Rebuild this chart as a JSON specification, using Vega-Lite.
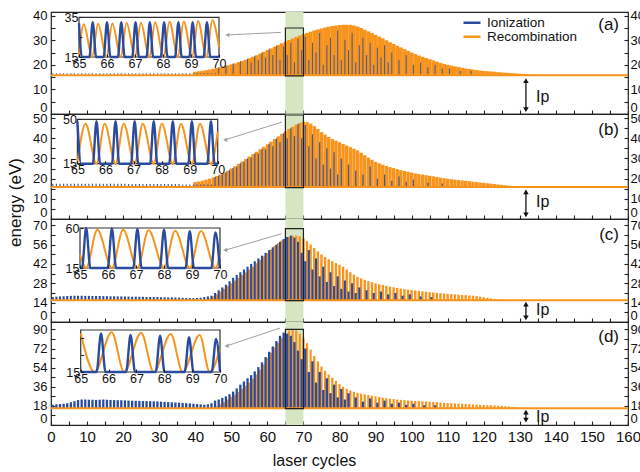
{
"$schema":"https://vega.github.io/schema/vega-lite/v6.json",
"padding":{"left":5,"top":9,"right":0,"bottom":2},
"background":"white",
"config":{"font":"Liberation Sans","view":{"stroke":"#222","strokeWidth":1.2},
"axis":{"labelColor":"#111","tickColor":"#222","titleColor":"#111","labelFont":"Liberation Sans","titleFont":"Liberation Sans","titleFontWeight":"normal","grid":false,"domain":false,"zindex":1,"tickWidth":1.1,"labelOverlap":false,"format":"d"},
"legend":{"labelFont":"Liberation Sans","labelColor":"#111"},
"text":{"font":"Liberation Sans","color":"#111"}},
"datasets":{
"m":[
{"t":0,"ai":16.6,"bi":17.5,"ci":18.0,"di":19},
{"t":1,"ai":16.6,"bi":17.5,"ci":18.3,"di":19.5},
{"t":2,"ai":16.6,"bi":17.5,"ci":18.5,"di":19.8},
{"t":3,"ai":16.6,"bi":17.5,"ci":18.6,"di":20},
{"t":4,"ai":16.6,"bi":17.5,"ci":18.8,"di":20.5},
{"t":5,"ai":16.6,"bi":17.5,"ci":18.9,"di":21.5},
{"t":6,"ai":16.6,"bi":17.5,"ci":19.0,"di":22.5},
{"t":7,"ai":16.6,"bi":17.5,"ci":19.0,"di":23.5},
{"t":8,"ai":16.6,"bi":17.5,"ci":19.0,"di":24},
{"t":9,"ai":16.6,"bi":17.5,"ci":18.9,"di":24},
{"t":10,"ai":16.6,"bi":17.5,"ci":18.9,"di":23.8},
{"t":11,"ai":16.6,"bi":17.5,"ci":18.8,"di":23.8},
{"t":12,"ai":16.6,"bi":17.5,"ci":18.8,"di":23.6},
{"t":13,"ai":16.6,"bi":17.5,"ci":18.8,"di":23.8},
{"t":14,"ai":16.6,"bi":17.5,"ci":18.7,"di":24},
{"t":15,"ai":16.6,"bi":17.5,"ci":18.7,"di":23.8},
{"t":16,"ai":16.6,"bi":17.5,"ci":18.6,"di":23.6},
{"t":17,"ai":16.6,"bi":17.5,"ci":18.6,"di":23.5},
{"t":18,"ai":16.6,"bi":17.5,"ci":18.5,"di":23.4},
{"t":19,"ai":16.6,"bi":17.5,"ci":18.5,"di":23.3},
{"t":20,"ai":16.6,"bi":17.5,"ci":18.4,"di":23.2},
{"t":21,"ai":16.6,"bi":17.3,"ci":18.4,"di":23},
{"t":22,"ai":16.6,"bi":17.3,"ci":18.3,"di":22.9},
{"t":23,"ai":16.6,"bi":17.3,"ci":18.3,"di":22.8},
{"t":24,"ai":16.6,"bi":17.3,"ci":18.2,"di":22.7},
{"t":25,"ai":16.6,"bi":17.3,"ci":18.2,"di":22.6},
{"t":26,"ai":16.6,"bi":17.3,"ci":18.1,"di":22.5},
{"t":27,"ai":16.6,"bi":17.3,"ci":18.1,"di":22.4},
{"t":28,"ai":16.6,"bi":17.3,"ci":18.0,"di":22.3},
{"t":29,"ai":16.6,"bi":17.3,"ci":18.0,"di":22.2},
{"t":30,"ai":16.6,"bi":17.3,"ci":17.9,"di":22},
{"t":31,"ai":16.6,"bi":17.3,"ci":17.9,"di":21.8},
{"t":32,"ai":16.6,"bi":17.3,"ci":17.8,"di":21.6},
{"t":33,"ai":16.6,"bi":17.3,"ci":17.8,"di":21.4},
{"t":34,"ai":16.6,"bi":17.3,"ci":17.7,"di":21.2},
{"t":35,"ai":16.6,"bi":17.3,"ci":17.6,"di":21},
{"t":36,"ai":16.6,"bi":17.1,"ci":17.5,"di":20.8},
{"t":37,"ai":16.6,"bi":17.1,"ci":17.4,"di":20.6},
{"t":38,"ai":16.6,"bi":17.1,"ci":17.3,"di":20.3},
{"t":39,"ai":16.6,"bi":17.1,"ci":17.3,"di":20},
{"t":40,"ar":17.2,"ai":16.6,"br":18.3,"bi":17.1,"ci":17.4,"di":19.7},
{"t":41,"ar":17.4,"ai":16.6,"br":18.6,"bi":17.1,"ci":17.6,"di":19.4},
{"t":42,"ar":17.6,"ai":16.6,"br":19.0,"bi":17.1,"ci":18.0,"di":19.1},
{"t":43,"ar":17.8,"ai":16.6,"br":19.5,"bi":17.1,"ci":18.5,"di":19.5},
{"t":44,"ar":18.1,"ai":16.6,"br":20.0,"bi":17.1,"cr":17,"ci":19,"di":20.5},
{"t":45,"ar":18.4,"ai":16.6,"br":20.6,"bi":20.8,"cr":18.5,"ci":21,"dr":16,"di":23},
{"t":46,"ar":18.7,"ai":19.0,"br":21.3,"bi":21.5,"cr":20,"ci":23,"dr":17.5,"di":24},
{"t":47,"ar":19.0,"br":22.0,"bi":22.3,"cr":22,"ci":25,"dr":19.5,"di":25.5},
{"t":48,"ar":19.4,"ai":19.7,"br":22.9,"bi":23.1,"cr":24,"ci":27,"dr":21.5,"di":27},
{"t":49,"ar":19.8,"br":23.9,"bi":24.2,"cr":26,"ci":29.5,"dr":24,"di":29},
{"t":50,"ar":20.2,"ai":20.5,"br":25.0,"bi":25.3,"cr":28,"ci":32,"dr":26.5,"di":31.5},
{"t":51,"ar":20.6,"br":26.1,"bi":26.0,"cr":30,"ci":34,"dr":28.5,"di":34.5},
{"t":52,"ar":21.1,"ai":21.4,"br":27.3,"bi":27.6,"cr":32,"ci":36,"dr":31,"di":38},
{"t":53,"ar":21.6,"br":28.5,"bi":28.3,"cr":34,"ci":38,"dr":34,"di":41},
{"t":54,"ar":22.1,"ai":22.4,"br":29.7,"bi":30.0,"cr":36,"ci":40,"dr":37,"di":44},
{"t":55,"ar":22.7,"ai":21,"br":30.9,"bi":30.5,"cr":38,"ci":42,"dr":40,"di":47},
{"t":56,"ar":23.3,"ai":23.6,"br":32.1,"bi":32.4,"cr":40,"ci":44,"dr":43.5,"di":50.5},
{"t":57,"ar":23.9,"ai":22,"br":33.3,"bi":32.5,"cr":42.5,"ci":46,"dr":47.5,"di":54.5},
{"t":58,"ar":24.6,"ai":24.9,"br":34.5,"bi":34.8,"cr":45,"ci":48,"dr":52,"di":59},
{"t":59,"ar":25.3,"ai":23,"br":35.8,"bi":34.5,"cr":47.5,"ci":50,"dr":57,"di":64},
{"t":60,"ar":26.0,"ai":26.3,"br":37.0,"bi":37.3,"cr":50,"ci":52,"dr":63,"di":69},
{"t":61,"ar":26.7,"ai":24,"br":38.3,"bi":36.0,"cr":52.5,"ci":54,"dr":68,"di":74},
{"t":62,"ar":27.4,"ai":27.7,"br":39.6,"bi":39.9,"cr":55,"ci":56,"dr":73,"di":79},
{"t":63,"ar":28.1,"ai":22,"br":40.9,"bi":38.0,"cr":57,"ci":58,"dr":77.5,"di":84},
{"t":64,"ar":28.8,"ai":27.5,"br":42.2,"bi":42.5,"cr":59,"ci":60,"dr":82,"di":87},
{"t":65,"ar":29.5,"ai":24,"br":43.4,"bi":40.0,"cr":60.5,"ci":61.5,"dr":86,"di":86},
{"t":66,"ar":30.1,"ai":29,"br":44.6,"bi":44.9,"cr":61.5,"ci":62.5,"dr":89,"di":84},
{"t":67,"ar":30.7,"ai":21,"br":45.7,"bi":41.0,"cr":62.5,"ci":61,"dr":90,"di":78},
{"t":68,"ar":31.3,"ai":30.5,"br":46.7,"bi":47.0,"cr":62.5,"ci":58,"dr":89,"di":70},
{"t":69,"ar":31.9,"ai":26,"br":47.6,"bi":40.0,"cr":62,"ci":50,"dr":86,"di":62},
{"t":70,"ar":32.5,"ai":31.5,"br":48.2,"bi":46.5,"cr":60.5,"ci":44,"dr":82,"di":72},
{"t":71,"ar":33.0,"ai":22,"br":48.0,"bi":36.0,"cr":58.5,"ci":52,"dr":77,"di":50},
{"t":72,"ar":33.5,"ai":29,"br":47.2,"bi":42,"cr":56,"ci":38,"dr":71,"di":60},
{"t":73,"ar":34.0,"ai":25,"br":46.0,"bi":30,"cr":53.5,"ci":46,"dr":65,"di":40},
{"t":74,"ar":34.4,"ai":33,"br":44.6,"bi":38,"cr":51,"ci":33,"dr":60,"di":50},
{"t":75,"ar":34.8,"ai":20,"br":43.0,"bi":27,"cr":48.8,"ci":40,"dr":55,"di":33},
{"t":76,"ar":35.2,"ai":28,"br":41.8,"bi":35,"cr":47,"ci":29,"dr":51,"di":44},
{"t":77,"ar":35.5,"ai":31,"br":40.6,"bi":25,"cr":45.4,"ci":36,"dr":47.5,"di":30},
{"t":78,"ar":35.8,"ai":24,"br":39.6,"bi":33,"cr":44,"ci":26,"dr":44.5,"di":38},
{"t":79,"ar":36.0,"ai":34,"br":38.8,"bi":22,"cr":42.6,"ci":33,"dr":41.5,"di":26},
{"t":80,"ar":36.2,"ai":22,"br":38.0,"bi":30,"cr":41.4,"ci":24,"dr":38.5,"di":34},
{"t":81,"ar":36.3,"ai":30,"br":37.2,"cr":40,"ci":30,"dr":36,"di":24},
{"t":82,"ar":36.3,"ai":26,"br":36.4,"bi":27,"cr":38,"ci":22,"dr":34,"di":30},
{"t":83,"ar":36.3,"ai":33,"br":35.6,"cr":36,"ci":28,"dr":32.5},
{"t":84,"ar":36.0,"ai":21,"br":34.8,"bi":24,"cr":34.2,"ci":21,"dr":31.3,"di":26},
{"t":85,"ar":35.6,"ai":28,"br":34.0,"cr":32.6,"ci":25,"dr":30.3},
{"t":86,"ar":35.0,"ai":31,"br":32.8,"bi":22,"cr":31.5,"dr":29.5,"di":22},
{"t":87,"ar":34.3,"ai":24,"br":31.6,"cr":30.5,"ci":23,"dr":28.8},
{"t":88,"ar":33.6,"ai":29,"br":30.4,"bi":26,"cr":29.6,"dr":28.2,"di":25},
{"t":89,"ar":32.9,"ai":20,"br":29.3,"cr":28.8,"ci":21,"dr":27.6},
{"t":90,"ar":32.2,"ai":27,"br":28.3,"bi":20,"cr":28,"dr":27,"di":21},
{"t":91,"ar":31.5,"ai":23,"br":27.6,"cr":27.3,"ci":22,"dr":26.4},
{"t":92,"ar":30.8,"ai":28,"br":26.9,"bi":22,"cr":26.8,"dr":25.8,"di":23},
{"t":93,"ar":30.0,"ai":21,"br":26.3,"cr":26.2,"ci":20,"dr":25.3},
{"t":94,"ar":29.2,"ai":25,"br":25.7,"bi":19,"cr":25.6,"dr":24.8,"di":20},
{"t":95,"ar":28.5,"br":25.2,"cr":25.1,"ci":21,"dr":24.4},
{"t":96,"ar":27.8,"ai":22,"br":24.7,"bi":21,"cr":24.6,"dr":24,"di":21},
{"t":97,"ar":27.1,"br":24.2,"cr":24.2,"ci":19,"dr":23.7},
{"t":98,"ar":26.4,"ai":24,"br":23.8,"bi":18.5,"cr":23.8,"dr":23.4,"di":19},
{"t":99,"ar":25.7,"br":23.4,"cr":23.4,"ci":20,"dr":23.1},
{"t":100,"ar":25.0,"ai":20,"br":23.0,"bi":19.5,"cr":23.1,"dr":22.9,"di":20},
{"t":101,"ar":24.4,"br":22.6,"cr":22.8,"dr":22.7},
{"t":102,"ar":23.8,"ai":21,"br":22.3,"cr":22.5,"ci":18.5,"dr":22.5},
{"t":103,"ar":23.3,"br":22.0,"cr":22.2,"dr":22.3,"di":18.5},
{"t":104,"ar":22.8,"ai":19,"br":21.7,"bi":18,"cr":21.9,"dr":22.1},
{"t":105,"ar":22.3,"br":21.4,"cr":21.6,"ci":18,"dr":21.9},
{"t":106,"ar":21.8,"ai":20,"br":21.1,"cr":21.3,"dr":21.7,"di":18.5},
{"t":107,"ar":21.3,"br":20.8,"cr":21,"dr":21.5},
{"t":108,"ar":20.8,"ai":18.5,"br":20.5,"bi":17.5,"cr":20.8,"dr":21.2},
{"t":109,"ar":20.4,"br":20.2,"cr":20.6,"dr":20.9},
{"t":110,"ar":20.0,"ai":18.5,"br":19.9,"cr":20.4,"dr":20.7},
{"t":111,"ar":19.7,"br":19.7,"cr":20.2,"dr":20.5},
{"t":112,"ar":19.4,"br":19.5,"cr":20,"dr":20.3},
{"t":113,"ar":19.1,"ai":17.5,"br":19.3,"cr":19.8,"dr":20.1},
{"t":114,"ar":18.8,"br":19.1,"cr":19.6,"dr":20},
{"t":115,"ar":18.5,"br":18.9,"cr":19.4,"dr":19.8},
{"t":116,"ar":18.3,"ai":17.5,"br":18.7,"cr":19.2,"dr":19.6},
{"t":117,"ar":18.1,"br":18.5,"cr":19,"dr":19.4},
{"t":118,"ar":17.9,"br":18.3,"cr":18.7,"dr":19.2},
{"t":119,"ar":17.7,"br":18.1,"cr":18.3,"dr":19},
{"t":120,"ar":17.5,"br":17.9,"cr":17.9,"dr":18.9},
{"t":121,"ar":17.4,"br":17.7,"cr":17.5,"dr":18.7},
{"t":122,"ar":17.3,"br":17.5,"cr":17.1,"dr":18.6},
{"t":123,"ar":17.2,"br":17.3,"cr":16.7,"dr":18.4},
{"t":124,"ar":17.0,"br":17.1,"cr":16.4,"dr":18.2},
{"t":125,"ar":16.9,"br":16.9,"cr":16.1,"dr":18},
{"t":126,"ar":16.8,"br":16.7,"dr":17.7},
{"t":127,"ar":16.7,"br":16.5,"dr":17.4},
{"t":128,"ar":16.6,"br":16.3,"dr":17.1},
{"t":129,"ar":16.5,"br":16.2,"dr":16.8},
{"t":130,"ar":16.4,"br":16.1,"dr":16.5},
{"t":131,"ar":16.3,"br":16.0,"dr":16.2},
{"t":132,"ar":16.2,"br":15.9,"dr":16},
{"t":133,"ar":16.1},
{"t":134,"ar":16.0},
{"t":135,"ar":16.0}
],
"ins":[
{"p":"a","s":"R","x":65,"y":15.4},{"p":"a","s":"R","x":65.17,"y":31.5},{"p":"a","s":"R","x":65.47,"y":15},{"p":"a","s":"R","x":65.68,"y":31.7},{"p":"a","s":"R","x":65.98,"y":15},{"p":"a","s":"R","x":66.19,"y":31.9},{"p":"a","s":"R","x":66.49,"y":15},{"p":"a","s":"R","x":66.7,"y":32.1},{"p":"a","s":"R","x":67,"y":15},{"p":"a","s":"R","x":67.21,"y":32.3},{"p":"a","s":"R","x":67.51,"y":15},{"p":"a","s":"R","x":67.72,"y":32.5},{"p":"a","s":"R","x":68.02,"y":15},{"p":"a","s":"R","x":68.23,"y":32.7},{"p":"a","s":"R","x":68.53,"y":15},{"p":"a","s":"R","x":68.74,"y":32.9},{"p":"a","s":"R","x":69.04,"y":15},{"p":"a","s":"R","x":69.25,"y":33.1},{"p":"a","s":"R","x":69.55,"y":15},{"p":"a","s":"R","x":69.76,"y":33.5},{"p":"a","s":"R","x":70,"y":20},
{"p":"a","s":"I","x":65,"y":32},{"p":"a","s":"I","x":65.1,"y":15},{"p":"a","s":"I","x":65.37,"y":15},{"p":"a","s":"I","x":65.49,"y":32.5},{"p":"a","s":"I","x":65.61,"y":15},{"p":"a","s":"I","x":65.88,"y":15},{"p":"a","s":"I","x":66,"y":32.5},{"p":"a","s":"I","x":66.12,"y":15},{"p":"a","s":"I","x":66.39,"y":15},{"p":"a","s":"I","x":66.51,"y":32.5},{"p":"a","s":"I","x":66.63,"y":15},{"p":"a","s":"I","x":66.9,"y":15},{"p":"a","s":"I","x":67.02,"y":32.5},{"p":"a","s":"I","x":67.14,"y":15},{"p":"a","s":"I","x":67.41,"y":15},{"p":"a","s":"I","x":67.53,"y":32.5},{"p":"a","s":"I","x":67.65,"y":15},{"p":"a","s":"I","x":67.92,"y":15},{"p":"a","s":"I","x":68.04,"y":32.5},{"p":"a","s":"I","x":68.16,"y":15},{"p":"a","s":"I","x":68.43,"y":15},{"p":"a","s":"I","x":68.55,"y":32.5},{"p":"a","s":"I","x":68.67,"y":15},{"p":"a","s":"I","x":68.94,"y":15},{"p":"a","s":"I","x":69.06,"y":32.5},{"p":"a","s":"I","x":69.18,"y":15},{"p":"a","s":"I","x":69.45,"y":15},{"p":"a","s":"I","x":69.57,"y":32.5},{"p":"a","s":"I","x":69.69,"y":15},{"p":"a","s":"I","x":70,"y":15},
{"p":"b","s":"R","x":65,"y":15.5},{"p":"b","s":"R","x":65.29,"y":46.5},{"p":"b","s":"R","x":65.68,"y":15},{"p":"b","s":"R","x":65.97,"y":46.5},{"p":"b","s":"R","x":66.36,"y":15},{"p":"b","s":"R","x":66.65,"y":46.5},{"p":"b","s":"R","x":67.04,"y":15},{"p":"b","s":"R","x":67.33,"y":46.5},{"p":"b","s":"R","x":67.72,"y":15},{"p":"b","s":"R","x":68.01,"y":46.5},{"p":"b","s":"R","x":68.4,"y":15},{"p":"b","s":"R","x":68.69,"y":46.5},{"p":"b","s":"R","x":69.08,"y":15},{"p":"b","s":"R","x":69.37,"y":46.5},{"p":"b","s":"R","x":69.76,"y":15},{"p":"b","s":"R","x":70,"y":40},
{"p":"b","s":"I","x":65,"y":48.5},{"p":"b","s":"I","x":65.13,"y":15},{"p":"b","s":"I","x":65.55,"y":15},{"p":"b","s":"I","x":65.68,"y":48.5},{"p":"b","s":"I","x":65.81,"y":15},{"p":"b","s":"I","x":66.23,"y":15},{"p":"b","s":"I","x":66.36,"y":48.5},{"p":"b","s":"I","x":66.49,"y":15},{"p":"b","s":"I","x":66.91,"y":15},{"p":"b","s":"I","x":67.04,"y":48.5},{"p":"b","s":"I","x":67.17,"y":15},{"p":"b","s":"I","x":67.59,"y":15},{"p":"b","s":"I","x":67.72,"y":48.5},{"p":"b","s":"I","x":67.85,"y":15},{"p":"b","s":"I","x":68.27,"y":15},{"p":"b","s":"I","x":68.4,"y":48.5},{"p":"b","s":"I","x":68.53,"y":15},{"p":"b","s":"I","x":68.95,"y":15},{"p":"b","s":"I","x":69.08,"y":48.5},{"p":"b","s":"I","x":69.21,"y":15},{"p":"b","s":"I","x":69.63,"y":15},{"p":"b","s":"I","x":69.76,"y":48.5},{"p":"b","s":"I","x":69.89,"y":15},{"p":"b","s":"I","x":70,"y":15},
{"p":"c","s":"R","x":65,"y":30},{"p":"c","s":"R","x":65.22,"y":15},{"p":"c","s":"R","x":65.62,"y":58},{"p":"c","s":"R","x":66.14,"y":15},{"p":"c","s":"R","x":66.54,"y":58},{"p":"c","s":"R","x":67.05,"y":15},{"p":"c","s":"R","x":67.45,"y":57.5},{"p":"c","s":"R","x":68,"y":15},{"p":"c","s":"R","x":68.4,"y":57},{"p":"c","s":"R","x":68.92,"y":15},{"p":"c","s":"R","x":69.32,"y":56.5},{"p":"c","s":"R","x":69.84,"y":15},{"p":"c","s":"R","x":70,"y":30},
{"p":"c","s":"I","x":65,"y":15},{"p":"c","s":"I","x":65.07,"y":15},{"p":"c","s":"I","x":65.22,"y":60},{"p":"c","s":"I","x":65.37,"y":15},{"p":"c","s":"I","x":65.99,"y":15},{"p":"c","s":"I","x":66.14,"y":59.5},{"p":"c","s":"I","x":66.29,"y":15},{"p":"c","s":"I","x":66.9,"y":15},{"p":"c","s":"I","x":67.05,"y":59},{"p":"c","s":"I","x":67.2,"y":15},{"p":"c","s":"I","x":67.85,"y":15},{"p":"c","s":"I","x":68,"y":58},{"p":"c","s":"I","x":68.15,"y":15},{"p":"c","s":"I","x":68.77,"y":15},{"p":"c","s":"I","x":68.92,"y":56.5},{"p":"c","s":"I","x":69.07,"y":15},{"p":"c","s":"I","x":69.69,"y":15},{"p":"c","s":"I","x":69.84,"y":55},{"p":"c","s":"I","x":69.99,"y":15},
{"p":"d","s":"R","x":65,"y":84},{"p":"d","s":"R","x":65.5,"y":15},{"p":"d","s":"R","x":66.11,"y":86},{"p":"d","s":"R","x":66.56,"y":15},{"p":"d","s":"R","x":67.17,"y":85},{"p":"d","s":"R","x":67.62,"y":15},{"p":"d","s":"R","x":68.23,"y":83},{"p":"d","s":"R","x":68.66,"y":15},{"p":"d","s":"R","x":69.27,"y":81},{"p":"d","s":"R","x":69.63,"y":15},{"p":"d","s":"R","x":70,"y":55},
{"p":"d","s":"I","x":65,"y":15},{"p":"d","s":"I","x":65.57,"y":15},{"p":"d","s":"I","x":65.73,"y":84},{"p":"d","s":"I","x":65.89,"y":15},{"p":"d","s":"I","x":66.63,"y":15},{"p":"d","s":"I","x":66.79,"y":81},{"p":"d","s":"I","x":66.95,"y":15},{"p":"d","s":"I","x":67.69,"y":15},{"p":"d","s":"I","x":67.85,"y":80},{"p":"d","s":"I","x":68.01,"y":15},{"p":"d","s":"I","x":68.73,"y":15},{"p":"d","s":"I","x":68.89,"y":77},{"p":"d","s":"I","x":69.05,"y":15},{"p":"d","s":"I","x":69.7,"y":15},{"p":"d","s":"I","x":69.86,"y":74},{"p":"d","s":"I","x":70,"y":17}
]},
"spacing":0,
"bounds":"flush",
"resolve":{"scale":{"color":"independent"},"legend":{"color":"independent"}},
"vconcat":[
{"width":577,"height":102,
"layer":[
{"layer":[
{"data":{"values":[{}]},"mark":{"type":"rect","color":"#d6e6c3"},"encoding":{"x":{"datum":65,"type":"quantitative","axis":null},"x2":{"datum":70}}},
{"data":{"name":"m"},"mark":{"type":"rule","color":"#f7941d","strokeWidth":3.8},"encoding":{"x":{"field":"t","type":"quantitative","scale":{"domain":[0,160],"nice":false,"zero":false},"axis":null},"y":{"field":"ar","type":"quantitative","scale":{"domain":[0,41.5],"nice":false,"zero":false},"axis":null},"y2":{"datum":15.8}}},
{"data":{"name":"m"},"mark":{"type":"rule","color":"#2b4c9e","strokeWidth":1,"xOffset":1.8,"opacity":0.85},"encoding":{"x":{"field":"t","type":"quantitative","axis":null},"y":{"field":"ai","type":"quantitative","axis":null},"y2":{"datum":15.8}}},
{"data":{"values":[{}]},"mark":{"type":"rule","color":"#f7941d","strokeWidth":2},"encoding":{"x":{"datum":0,"type":"quantitative","axis":null},"x2":{"datum":160},"y":{"datum":15.8,"type":"quantitative","axis":null}}},
{"data":{"values":[{}]},"mark":{"type":"rect","fillOpacity":0,"stroke":"#222","strokeWidth":1.2},"encoding":{"x":{"datum":65,"type":"quantitative","axis":null},"x2":{"datum":70},"y":{"datum":15.5,"type":"quantitative","axis":null},"y2":{"datum":35}}},
{"data":{"values":[{}]},"mark":{"type":"rule","color":"#111","strokeWidth":1.3},"encoding":{"x":{"datum":131.7,"type":"quantitative","axis":null},"y":{"datum":1.8,"type":"quantitative","axis":null},"y2":{"datum":13.6}}},
{"data":{"values":[{}]},"mark":{"type":"point","shape":"triangle-up","filled":true,"color":"#111","size":30,"opacity":1},"encoding":{"x":{"datum":131.7,"type":"quantitative","axis":null},"y":{"datum":13.6,"type":"quantitative","axis":null}}},
{"data":{"values":[{}]},"mark":{"type":"point","shape":"triangle-down","filled":true,"color":"#111","size":30,"opacity":1},"encoding":{"x":{"datum":131.7,"type":"quantitative","axis":null},"y":{"datum":1.8,"type":"quantitative","axis":null}}},
{"data":{"values":[{}]},"mark":{"type":"text","text":"Ip","align":"left","baseline":"middle","fontSize":16},"encoding":{"x":{"datum":134.5,"type":"quantitative","axis":null},"y":{"datum":6.9,"type":"quantitative","axis":null}}},
{"data":{"values":[{}]},"mark":{"type":"text","text":"(a)","align":"right","baseline":"middle","fontSize":17,"dx":-9},"encoding":{"x":{"datum":160,"type":"quantitative","axis":null},"y":{"datum":36.1,"type":"quantitative","axis":null}}},
{"data":{"values":[{}]},"mark":{"type":"rule","color":"#a0a0a0","strokeWidth":1},"encoding":{"x":{"datum":63.7,"type":"quantitative","axis":null},"y":{"datum":33.2,"type":"quantitative","axis":null},"x2":{"datum":49.3},"y2":{"datum":32.2}}},
{"data":{"values":[{}]},"mark":{"type":"point","shape":"triangle-left","filled":true,"color":"#a0a0a0","size":22,"opacity":1},"encoding":{"x":{"datum":48.9,"type":"quantitative","axis":null},"y":{"datum":32.15,"type":"quantitative","axis":null}}}
]},
{"data":{"values":[{}]},"mark":{"type":"rule","opacity":0},"encoding":{"x":{"datum":0,"type":"quantitative","scale":{"domain":[0,160],"nice":false},"axis":{"orient":"bottom","values":[0,5,10,15,20,25,30,35,40,45,50,55,60,65,70,75,80,85,90,95,100,105,110,115,120,125,130,135,140,145,150,155,160],"labels":false,"tickSize":-4,"title":null}},"x2":{"datum":160},"y":{"datum":15.8,"type":"quantitative","scale":{"domain":[0,41.5],"nice":false,"zero":false},"axis":{"orient":"left","values":[0,5,10,15,20,25,30,35,40],"labelExpr":"datum.value % 10 == 0 ? datum.label : ''","labelOverlap":false,"tickSize":-4,"labelPadding":8,"labelFontSize":13,"labelFlush":true,"title":null}}}},
{"data":{"values":[{}]},"mark":{"type":"rule","opacity":0},"encoding":{"x":{"datum":0,"type":"quantitative","scale":{"domain":[0,160],"nice":false},"axis":null},"x2":{"datum":160},"y":{"datum":15.8,"type":"quantitative","scale":{"domain":[0,41.5],"nice":false,"zero":false},"axis":{"orient":"right","values":[0,5,10,15,20,25,30,35,40],"labelExpr":"datum.value % 10 == 0 ? datum.label : ''","labelOverlap":false,"tickSize":-4,"labelPadding":6,"labelFontSize":13,"labelFlush":true,"title":null}}}},
{"layer":[
{"data":{"values":[{}]},"mark":{"type":"rect","fill":"white","stroke":"#333","strokeWidth":1.2},"encoding":{"x":{"datum":65,"type":"quantitative","scale":{"domain":[65,70],"range":[28,168],"nice":false,"zero":false},"axis":{"orient":"bottom","offset":-57,"values":[65,66,67,68,69,70],"labelOverlap":false,"tickSize":-3,"labelPadding":3,"labelFontSize":12.5,"labelFlush":false,"title":null,"zindex":2}},"x2":{"datum":70},"y":{"datum":15,"type":"quantitative","scale":{"domain":[15,35],"range":[45,5.3],"nice":false,"zero":false},"axis":{"orient":"left","offset":-28,"values":[15,20,25,30,35],"labelExpr":"datum.value == 15 || datum.value == 35 ? datum.label : ''","labelOverlap":false,"tickSize":-3,"labelPadding":4,"labelFontSize":12.5,"labelFlush":false,"title":null,"zindex":2}},"y2":{"datum":35}}},
{"data":{"name":"ins"},"transform":[{"filter":"datum.p == 'a' && datum.s == 'R'"}],"mark":{"type":"line","interpolate":"monotone","strokeWidth":2},"encoding":{"x":{"field":"x","type":"quantitative"},"y":{"field":"y","type":"quantitative"},"color":{"field":"s","type":"nominal","scale":{"domain":["I","R"],"range":["#2b4c9e","#f7941d"]},"legend":{"orient":"none","legendX":411,"legendY":3.7,"title":null,"symbolType":"stroke","symbolSize":289,"symbolStrokeWidth":2.5,"labelFontSize":13.5,"labelOffset":5,"clipHeight":14,"rowPadding":0,"padding":0,"labelExpr":"datum.label == 'I' ? 'Ionization' : 'Recombination'"}}}},
{"data":{"name":"ins"},"transform":[{"filter":"datum.p == 'a' && datum.s == 'I'"}],"mark":{"type":"line","interpolate":"monotone","strokeWidth":2.4},"encoding":{"x":{"field":"x","type":"quantitative"},"y":{"field":"y","type":"quantitative"},"color":{"field":"s","type":"nominal","scale":{"domain":["I","R"],"range":["#2b4c9e","#f7941d"]}}}}
]}
],
"resolve":{"scale":{"x":"independent","y":"independent"},"axis":{"x":"independent","y":"independent"}}
},
{"width":577,"height":105,
"layer":[
{"layer":[
{"data":{"values":[{}]},"mark":{"type":"rect","color":"#d6e6c3"},"encoding":{"x":{"datum":65,"type":"quantitative","axis":null},"x2":{"datum":70}}},
{"data":{"name":"m"},"mark":{"type":"rule","color":"#f7941d","strokeWidth":3.4},"encoding":{"x":{"field":"t","type":"quantitative","scale":{"domain":[0,160],"nice":false,"zero":false},"axis":null},"y":{"field":"br","type":"quantitative","scale":{"domain":[0,52],"nice":false,"zero":false},"axis":null},"y2":{"datum":15.8}}},
{"data":{"name":"m"},"mark":{"type":"rule","color":"#2b4c9e","strokeWidth":1.2,"xOffset":1.8,"opacity":0.9},"encoding":{"x":{"field":"t","type":"quantitative","axis":null},"y":{"field":"bi","type":"quantitative","axis":null},"y2":{"datum":15.8}}},
{"data":{"values":[{}]},"mark":{"type":"rule","color":"#f7941d","strokeWidth":2},"encoding":{"x":{"datum":0,"type":"quantitative","axis":null},"x2":{"datum":160},"y":{"datum":15.8,"type":"quantitative","axis":null}}},
{"data":{"values":[{}]},"mark":{"type":"rect","fillOpacity":0,"stroke":"#222","strokeWidth":1.2},"encoding":{"x":{"datum":65,"type":"quantitative","axis":null},"x2":{"datum":70},"y":{"datum":15.5,"type":"quantitative","axis":null},"y2":{"datum":51.5}}},
{"data":{"values":[{}]},"mark":{"type":"rule","color":"#111","strokeWidth":1.3},"encoding":{"x":{"datum":131.7,"type":"quantitative","axis":null},"y":{"datum":2.1,"type":"quantitative","axis":null},"y2":{"datum":13.4}}},
{"data":{"values":[{}]},"mark":{"type":"point","shape":"triangle-up","filled":true,"color":"#111","size":30,"opacity":1},"encoding":{"x":{"datum":131.7,"type":"quantitative","axis":null},"y":{"datum":13.4,"type":"quantitative","axis":null}}},
{"data":{"values":[{}]},"mark":{"type":"point","shape":"triangle-down","filled":true,"color":"#111","size":30,"opacity":1},"encoding":{"x":{"datum":131.7,"type":"quantitative","axis":null},"y":{"datum":2.1,"type":"quantitative","axis":null}}},
{"data":{"values":[{}]},"mark":{"type":"text","text":"Ip","align":"left","baseline":"middle","fontSize":16},"encoding":{"x":{"datum":134.5,"type":"quantitative","axis":null},"y":{"datum":8.4,"type":"quantitative","axis":null}}},
{"data":{"values":[{}]},"mark":{"type":"text","text":"(b)","align":"right","baseline":"middle","fontSize":17,"dx":-9},"encoding":{"x":{"datum":160,"type":"quantitative","axis":null},"y":{"datum":43.9,"type":"quantitative","axis":null}}},
{"data":{"values":[{}]},"mark":{"type":"rule","color":"#a0a0a0","strokeWidth":1},"encoding":{"x":{"datum":64.0,"type":"quantitative","axis":null},"y":{"datum":48.0,"type":"quantitative","axis":null},"x2":{"datum":48.6},"y2":{"datum":39.4}}},
{"data":{"values":[{}]},"mark":{"type":"point","shape":"triangle-left","filled":true,"color":"#a0a0a0","size":22,"opacity":1},"encoding":{"x":{"datum":48.3,"type":"quantitative","axis":null},"y":{"datum":39.2,"type":"quantitative","axis":null}}}
]},
{"data":{"values":[{}]},"mark":{"type":"rule","opacity":0},"encoding":{"x":{"datum":0,"type":"quantitative","scale":{"domain":[0,160],"nice":false},"axis":{"orient":"bottom","values":[0,5,10,15,20,25,30,35,40,45,50,55,60,65,70,75,80,85,90,95,100,105,110,115,120,125,130,135,140,145,150,155,160],"labels":false,"tickSize":-4,"title":null}},"x2":{"datum":160},"y":{"datum":15.8,"type":"quantitative","scale":{"domain":[0,52],"nice":false,"zero":false},"axis":{"orient":"left","values":[0,5,10,15,20,25,30,35,40,45,50],"labelExpr":"datum.value % 10 == 0 ? datum.label : ''","labelOverlap":false,"tickSize":-4,"labelPadding":8,"labelFontSize":13,"labelFlush":true,"title":"energy (eV)","titleX":-36,"titleY":88,"titleAngle":-90,"titleAlign":"center","titleBaseline":"middle","titleFontSize":17}}}},
{"data":{"values":[{}]},"mark":{"type":"rule","opacity":0},"encoding":{"x":{"datum":0,"type":"quantitative","scale":{"domain":[0,160],"nice":false},"axis":null},"x2":{"datum":160},"y":{"datum":15.8,"type":"quantitative","scale":{"domain":[0,52],"nice":false,"zero":false},"axis":{"orient":"right","values":[0,5,10,15,20,25,30,35,40,45,50],"labelExpr":"datum.value % 10 == 0 ? datum.label : ''","labelOverlap":false,"tickSize":-4,"labelPadding":6,"labelFontSize":13,"labelFlush":true,"title":null}}}},
{"layer":[
{"data":{"values":[{}]},"mark":{"type":"rect","fill":"white","stroke":"#333","strokeWidth":1.2},"encoding":{"x":{"datum":65,"type":"quantitative","scale":{"domain":[65,70],"range":[26.4,166.7],"nice":false,"zero":false},"axis":{"orient":"bottom","offset":-55.3,"values":[65,66,67,68,69,70],"labelOverlap":false,"tickSize":-3,"labelPadding":3,"labelFontSize":12.5,"labelFlush":false,"title":null,"zindex":2}},"x2":{"datum":70},"y":{"datum":15,"type":"quantitative","scale":{"domain":[15,50],"range":[49.7,5.3],"nice":false,"zero":false},"axis":{"orient":"left","offset":-26.4,"values":[15,20,25,30,35,40,45,50],"labelExpr":"datum.value == 15 || datum.value == 50 ? datum.label : ''","labelOverlap":false,"tickSize":-3,"labelPadding":4,"labelFontSize":12.5,"labelFlush":false,"title":null,"zindex":2}},"y2":{"datum":50}}},
{"data":{"name":"ins"},"transform":[{"filter":"datum.p == 'b' && datum.s == 'R'"}],"mark":{"type":"line","interpolate":"monotone","strokeWidth":2},"encoding":{"x":{"field":"x","type":"quantitative"},"y":{"field":"y","type":"quantitative"},"color":{"field":"s","type":"nominal","scale":{"domain":["I","R"],"range":["#2b4c9e","#f7941d"]},"legend":null}}},
{"data":{"name":"ins"},"transform":[{"filter":"datum.p == 'b' && datum.s == 'I'"}],"mark":{"type":"line","interpolate":"monotone","strokeWidth":2.4},"encoding":{"x":{"field":"x","type":"quantitative"},"y":{"field":"y","type":"quantitative"},"color":{"field":"s","type":"nominal","scale":{"domain":["I","R"],"range":["#2b4c9e","#f7941d"]},"legend":null}}}
]}
],
"resolve":{"scale":{"x":"independent","y":"independent"},"axis":{"x":"independent","y":"independent"}}
},
{"width":577,"height":103,
"layer":[
{"layer":[
{"data":{"values":[{}]},"mark":{"type":"rect","color":"#d6e6c3"},"encoding":{"x":{"datum":65,"type":"quantitative","axis":null},"x2":{"datum":70}}},
{"data":{"name":"m"},"mark":{"type":"rule","color":"#f7941d","strokeWidth":2.4},"encoding":{"x":{"field":"t","type":"quantitative","scale":{"domain":[0,160],"nice":false,"zero":false},"axis":null},"y":{"field":"cr","type":"quantitative","scale":{"domain":[0,74.5],"nice":false,"zero":false},"axis":null},"y2":{"datum":15.8}}},
{"data":{"name":"m"},"mark":{"type":"rule","color":"#2b4c9e","strokeWidth":2.1,"xOffset":1.8},"encoding":{"x":{"field":"t","type":"quantitative","axis":null},"y":{"field":"ci","type":"quantitative","axis":null},"y2":{"datum":15.8}}},
{"data":{"values":[{}]},"mark":{"type":"rule","color":"#f7941d","strokeWidth":2},"encoding":{"x":{"datum":0,"type":"quantitative","axis":null},"x2":{"datum":160},"y":{"datum":15.8,"type":"quantitative","axis":null}}},
{"data":{"values":[{}]},"mark":{"type":"rect","fillOpacity":0,"stroke":"#222","strokeWidth":1.2},"encoding":{"x":{"datum":65,"type":"quantitative","axis":null},"x2":{"datum":70},"y":{"datum":15.5,"type":"quantitative","axis":null},"y2":{"datum":67.5}}},
{"data":{"values":[{}]},"mark":{"type":"rule","color":"#111","strokeWidth":1.3},"encoding":{"x":{"datum":131.7,"type":"quantitative","axis":null},"y":{"datum":2.9,"type":"quantitative","axis":null},"y2":{"datum":12.9}}},
{"data":{"values":[{}]},"mark":{"type":"point","shape":"triangle-up","filled":true,"color":"#111","size":30,"opacity":1},"encoding":{"x":{"datum":131.7,"type":"quantitative","axis":null},"y":{"datum":12.9,"type":"quantitative","axis":null}}},
{"data":{"values":[{}]},"mark":{"type":"point","shape":"triangle-down","filled":true,"color":"#111","size":30,"opacity":1},"encoding":{"x":{"datum":131.7,"type":"quantitative","axis":null},"y":{"datum":2.9,"type":"quantitative","axis":null}}},
{"data":{"values":[{}]},"mark":{"type":"text","text":"Ip","align":"left","baseline":"middle","fontSize":16},"encoding":{"x":{"datum":134.5,"type":"quantitative","axis":null},"y":{"datum":8.5,"type":"quantitative","axis":null}}},
{"data":{"values":[{}]},"mark":{"type":"text","text":"(c)","align":"right","baseline":"middle","fontSize":17,"dx":-9},"encoding":{"x":{"datum":160,"type":"quantitative","axis":null},"y":{"datum":62.7,"type":"quantitative","axis":null}}},
{"data":{"values":[{}]},"mark":{"type":"rule","color":"#a0a0a0","strokeWidth":1},"encoding":{"x":{"datum":63.9,"type":"quantitative","axis":null},"y":{"datum":63.8,"type":"quantitative","axis":null},"x2":{"datum":48.6},"y2":{"datum":52.2}}},
{"data":{"values":[{}]},"mark":{"type":"point","shape":"triangle-left","filled":true,"color":"#a0a0a0","size":22,"opacity":1},"encoding":{"x":{"datum":48.3,"type":"quantitative","axis":null},"y":{"datum":52.0,"type":"quantitative","axis":null}}}
]},
{"data":{"values":[{}]},"mark":{"type":"rule","opacity":0},"encoding":{"x":{"datum":0,"type":"quantitative","scale":{"domain":[0,160],"nice":false},"axis":{"orient":"bottom","values":[0,5,10,15,20,25,30,35,40,45,50,55,60,65,70,75,80,85,90,95,100,105,110,115,120,125,130,135,140,145,150,155,160],"labels":false,"tickSize":-4,"title":null}},"x2":{"datum":160},"y":{"datum":15.8,"type":"quantitative","scale":{"domain":[0,74.5],"nice":false,"zero":false},"axis":{"orient":"left","values":[0,7,14,21,28,35,42,49,56,63,70],"labelExpr":"datum.value % 14 == 0 ? datum.label : ''","labelOverlap":false,"tickSize":-4,"labelPadding":8,"labelFontSize":13,"labelFlush":true,"title":null}}}},
{"data":{"values":[{}]},"mark":{"type":"rule","opacity":0},"encoding":{"x":{"datum":0,"type":"quantitative","scale":{"domain":[0,160],"nice":false},"axis":null},"x2":{"datum":160},"y":{"datum":15.8,"type":"quantitative","scale":{"domain":[0,74.5],"nice":false,"zero":false},"axis":{"orient":"right","values":[0,7,14,21,28,35,42,49,56,63,70],"labelExpr":"datum.value % 14 == 0 ? datum.label : ''","labelOverlap":false,"tickSize":-4,"labelPadding":6,"labelFontSize":13,"labelFlush":true,"title":null}}}},
{"layer":[
{"data":{"values":[{}]},"mark":{"type":"rect","fill":"white","stroke":"#333","strokeWidth":1.2},"encoding":{"x":{"datum":65,"type":"quantitative","scale":{"domain":[65,70],"range":[29,169],"nice":false,"zero":false},"axis":{"orient":"bottom","offset":-54,"values":[65,66,67,68,69,70],"labelOverlap":false,"tickSize":-3,"labelPadding":3,"labelFontSize":12.5,"labelFlush":false,"title":null,"zindex":2}},"x2":{"datum":70},"y":{"datum":15,"type":"quantitative","scale":{"domain":[15,60],"range":[49,9],"nice":false,"zero":false},"axis":{"orient":"left","offset":-29,"values":[15,30,45,60],"labelExpr":"datum.value == 15 || datum.value == 60 ? datum.label : ''","labelOverlap":false,"tickSize":-3,"labelPadding":4,"labelFontSize":12.5,"labelFlush":false,"title":null,"zindex":2}},"y2":{"datum":60}}},
{"data":{"name":"ins"},"transform":[{"filter":"datum.p == 'c' && datum.s == 'R'"}],"mark":{"type":"line","interpolate":"monotone","strokeWidth":2},"encoding":{"x":{"field":"x","type":"quantitative"},"y":{"field":"y","type":"quantitative"},"color":{"field":"s","type":"nominal","scale":{"domain":["I","R"],"range":["#2b4c9e","#f7941d"]},"legend":null}}},
{"data":{"name":"ins"},"transform":[{"filter":"datum.p == 'c' && datum.s == 'I'"}],"mark":{"type":"line","interpolate":"monotone","strokeWidth":2.4},"encoding":{"x":{"field":"x","type":"quantitative"},"y":{"field":"y","type":"quantitative"},"color":{"field":"s","type":"nominal","scale":{"domain":["I","R"],"range":["#2b4c9e","#f7941d"]},"legend":null}}}
]}
],
"resolve":{"scale":{"x":"independent","y":"independent"},"axis":{"x":"independent","y":"independent"}}
},
{"width":577,"height":103,
"layer":[
{"layer":[
{"data":{"values":[{}]},"mark":{"type":"rect","color":"#d6e6c3"},"encoding":{"x":{"datum":65,"type":"quantitative","axis":null},"x2":{"datum":70}}},
{"data":{"name":"m"},"mark":{"type":"rule","color":"#f7941d","strokeWidth":2.2},"encoding":{"x":{"field":"t","type":"quantitative","scale":{"domain":[0,160],"nice":false,"zero":false},"axis":null},"y":{"field":"dr","type":"quantitative","scale":{"domain":[0,97],"nice":false,"zero":false},"axis":null},"y2":{"datum":15.8}}},
{"data":{"name":"m"},"mark":{"type":"rule","color":"#2b4c9e","strokeWidth":2.3,"xOffset":1.8},"encoding":{"x":{"field":"t","type":"quantitative","axis":null},"y":{"field":"di","type":"quantitative","axis":null},"y2":{"datum":15.8}}},
{"data":{"values":[{}]},"mark":{"type":"rule","color":"#f7941d","strokeWidth":2},"encoding":{"x":{"datum":0,"type":"quantitative","axis":null},"x2":{"datum":160},"y":{"datum":15.8,"type":"quantitative","axis":null}}},
{"data":{"values":[{}]},"mark":{"type":"rect","fillOpacity":0,"stroke":"#222","strokeWidth":1.2},"encoding":{"x":{"datum":65,"type":"quantitative","axis":null},"x2":{"datum":70},"y":{"datum":15.5,"type":"quantitative","axis":null},"y2":{"datum":90}}},
{"data":{"values":[{}]},"mark":{"type":"rule","color":"#111","strokeWidth":1.3},"encoding":{"x":{"datum":131.7,"type":"quantitative","axis":null},"y":{"datum":4.6,"type":"quantitative","axis":null},"y2":{"datum":12.2}}},
{"data":{"values":[{}]},"mark":{"type":"point","shape":"triangle-up","filled":true,"color":"#111","size":30,"opacity":1},"encoding":{"x":{"datum":131.7,"type":"quantitative","axis":null},"y":{"datum":12.2,"type":"quantitative","axis":null}}},
{"data":{"values":[{}]},"mark":{"type":"point","shape":"triangle-down","filled":true,"color":"#111","size":30,"opacity":1},"encoding":{"x":{"datum":131.7,"type":"quantitative","axis":null},"y":{"datum":4.6,"type":"quantitative","axis":null}}},
{"data":{"values":[{}]},"mark":{"type":"text","text":"Ip","align":"left","baseline":"middle","fontSize":16},"encoding":{"x":{"datum":134.5,"type":"quantitative","axis":null},"y":{"datum":7.5,"type":"quantitative","axis":null}}},
{"data":{"values":[{}]},"mark":{"type":"text","text":"(d)","align":"right","baseline":"middle","fontSize":17,"dx":-9},"encoding":{"x":{"datum":160,"type":"quantitative","axis":null},"y":{"datum":82.9,"type":"quantitative","axis":null}}},
{"data":{"values":[{}]},"mark":{"type":"rule","color":"#a0a0a0","strokeWidth":1},"encoding":{"x":{"datum":63.5,"type":"quantitative","axis":null},"y":{"datum":91.3,"type":"quantitative","axis":null},"x2":{"datum":49.0},"y2":{"datum":74.8}}},
{"data":{"values":[{}]},"mark":{"type":"point","shape":"triangle-left","filled":true,"color":"#a0a0a0","size":22,"opacity":1},"encoding":{"x":{"datum":48.7,"type":"quantitative","axis":null},"y":{"datum":74.5,"type":"quantitative","axis":null}}}
]},
{"data":{"values":[{}]},"mark":{"type":"rule","opacity":0},"encoding":{"x":{"datum":0,"type":"quantitative","scale":{"domain":[0,160],"nice":false},"axis":{"orient":"bottom","values":[0,5,10,15,20,25,30,35,40,45,50,55,60,65,70,75,80,85,90,95,100,105,110,115,120,125,130,135,140,145,150,155,160],"labelExpr":"datum.value % 10 == 0 ? datum.label : ''","labelOverlap":false,"labelFlush":false,"labelFontSize":15,"labelPadding":8.5,"tickSize":-4,"title":"laser cycles","titleX":263,"titleY":35.5,"titleAlign":"center","titleBaseline":"middle","titleFontSize":16}},"x2":{"datum":160},"y":{"datum":15.8,"type":"quantitative","scale":{"domain":[0,97],"nice":false,"zero":false},"axis":{"orient":"left","values":[0,9,18,27,36,45,54,63,72,81,90],"labelExpr":"datum.value % 18 == 0 ? datum.label : ''","labelOverlap":false,"tickSize":-4,"labelPadding":8,"labelFontSize":13,"labelFlush":true,"title":null}}}},
{"data":{"values":[{}]},"mark":{"type":"rule","opacity":0},"encoding":{"x":{"datum":0,"type":"quantitative","scale":{"domain":[0,160],"nice":false},"axis":null},"x2":{"datum":160},"y":{"datum":15.8,"type":"quantitative","scale":{"domain":[0,97],"nice":false,"zero":false},"axis":{"orient":"right","values":[0,9,18,27,36,45,54,63,72,81,90],"labelExpr":"datum.value % 18 == 0 ? datum.label : ''","labelOverlap":false,"tickSize":-4,"labelPadding":6,"labelFontSize":13,"labelFlush":true,"title":null}}}},
{"layer":[
{"data":{"values":[{}]},"mark":{"type":"rect","fill":"white","stroke":"#333","strokeWidth":1.2},"encoding":{"x":{"datum":65,"type":"quantitative","scale":{"domain":[65,70],"range":[29.7,169],"nice":false,"zero":false},"axis":{"orient":"bottom","offset":-53,"values":[65,66,67,68,69,70],"labelOverlap":false,"tickSize":-3,"labelPadding":3,"labelFontSize":12.5,"labelFlush":false,"title":null,"zindex":2}},"x2":{"datum":70},"y":{"datum":15,"type":"quantitative","scale":{"domain":[15,90],"range":[50,8],"nice":false,"zero":false},"axis":{"orient":"left","offset":-29.7,"values":[15,30,45,60,75,90],"labelExpr":"datum.value == 15 || datum.value == 90 ? datum.label : ''","labelOverlap":false,"tickSize":-3,"labelPadding":4,"labelFontSize":12.5,"labelFlush":false,"title":null,"zindex":2}},"y2":{"datum":90}}},
{"data":{"name":"ins"},"transform":[{"filter":"datum.p == 'd' && datum.s == 'R'"}],"mark":{"type":"line","interpolate":"monotone","strokeWidth":2},"encoding":{"x":{"field":"x","type":"quantitative"},"y":{"field":"y","type":"quantitative"},"color":{"field":"s","type":"nominal","scale":{"domain":["I","R"],"range":["#2b4c9e","#f7941d"]},"legend":null}}},
{"data":{"name":"ins"},"transform":[{"filter":"datum.p == 'd' && datum.s == 'I'"}],"mark":{"type":"line","interpolate":"monotone","strokeWidth":2.4},"encoding":{"x":{"field":"x","type":"quantitative"},"y":{"field":"y","type":"quantitative"},"color":{"field":"s","type":"nominal","scale":{"domain":["I","R"],"range":["#2b4c9e","#f7941d"]},"legend":null}}}
]}
],
"resolve":{"scale":{"x":"independent","y":"independent"},"axis":{"x":"independent","y":"independent"}}
}
]
}
